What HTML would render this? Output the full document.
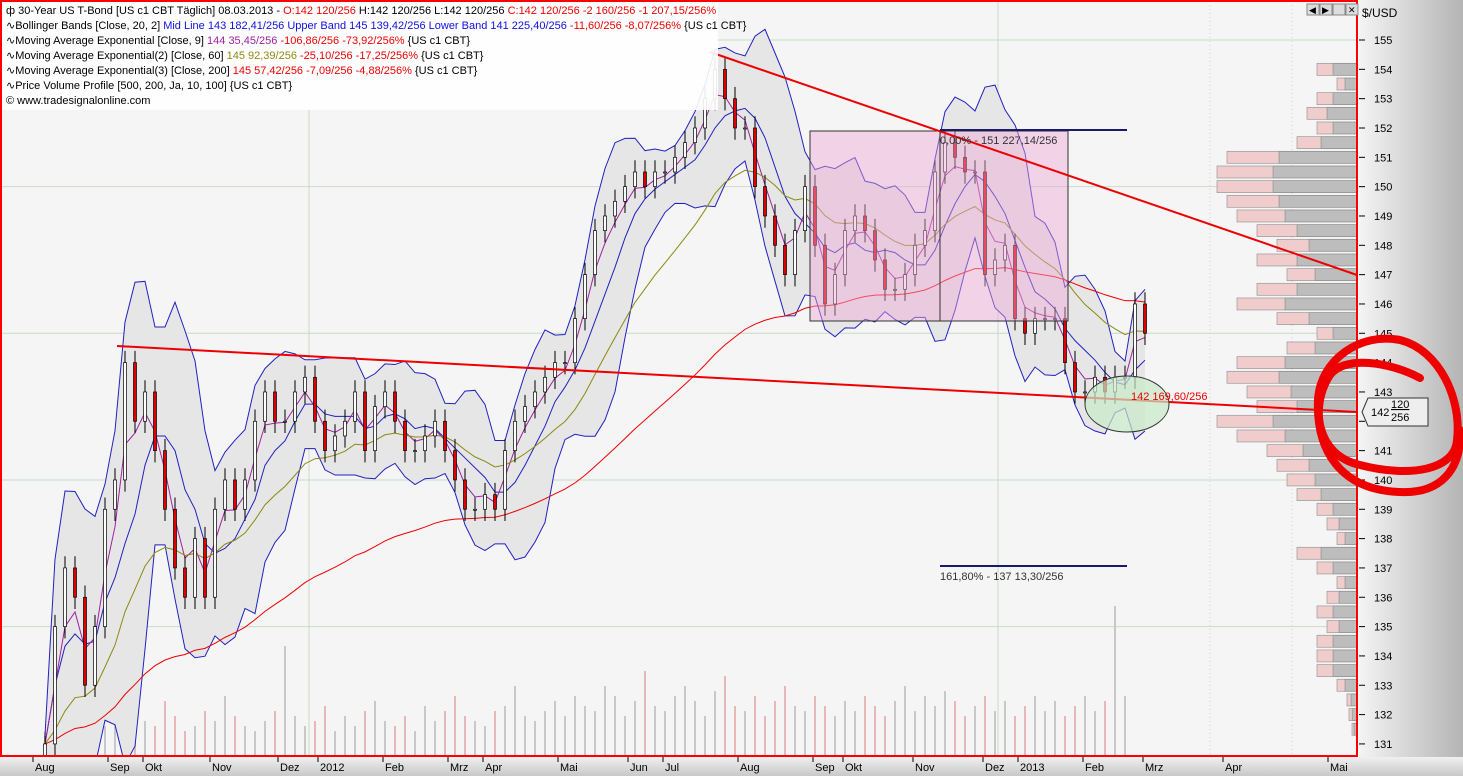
<!DOCTYPE html>
<html><head><meta charset="utf-8"><style>
html,body{margin:0;padding:0;background:#fff;overflow:hidden;width:1463px;height:776px;}
svg{display:block;font-family:"Liberation Sans",sans-serif;}
</style></head><body>
<svg id="chart" width="1463" height="776" viewBox="0 0 1463 776">
<defs>
<linearGradient id="axg" x1="0" x2="1" y1="0" y2="0"><stop offset="0" stop-color="#f4f4f4"/><stop offset="1" stop-color="#b4b4b4"/></linearGradient>
<linearGradient id="bxg" x1="0" x2="0" y1="0" y2="1"><stop offset="0" stop-color="#f0f0f0"/><stop offset="1" stop-color="#c8c8c8"/></linearGradient>
</defs>
<rect x="0" y="0" width="1463" height="776" fill="#fff"/>
<rect x="1" y="1" width="1356" height="755" fill="#f5f5f5"/>
<g id="grid"></g>
<g id="profile"></g>
<g id="volume"></g>
<g id="bands"></g>
<g id="overlays"></g>
<g id="candles"></g>
<rect x="1" y="1" width="1356" height="755" fill="none" stroke="#ff0000" stroke-width="2"/>
<rect x="1359" y="0" width="104" height="757" fill="url(#axg)"/>
<text x="1362" y="17" font-size="12" fill="#000">$/USD</text>
<g id="yaxis"></g>
<rect x="0" y="757" width="1463" height="19" fill="url(#bxg)"/>
<g id="xaxis"></g>
<g id="annot"></g>
<g>
<rect x="1307" y="4" width="12" height="11" fill="#ddd" stroke="#888"/><text x="1309" y="13" font-size="9">◀</text>
<rect x="1320" y="4" width="12" height="11" fill="#ddd" stroke="#888"/><text x="1322" y="13" font-size="9">▶</text>
<rect x="1333" y="4" width="12" height="11" fill="#ddd" stroke="#888"/>
<rect x="1346" y="4" width="12" height="11" fill="#ddd" stroke="#888"/><text x="1348" y="13" font-size="9">✕</text>
</g>
<g id="legend" font-size="11">
<rect x="2" y="2" width="716" height="108" fill="#fff" opacity="0.9"/>
<text x="6" y="14"><tspan>ф 30-Year US T-Bond [US c1 CBT  Täglich] 08.03.2013 - </tspan><tspan fill="#e00">O:142 120/256 </tspan><tspan>H:142 120/256 L:142 120/256 </tspan><tspan fill="#e00">C:142 120/256 -2 160/256 -1 207,15/256%</tspan></text>
<text x="6" y="29"><tspan>∿Bollinger Bands [Close, 20, 2] </tspan><tspan fill="#1010e0">Mid Line 143 182,41/256 Upper Band 145 139,42/256 Lower Band 141 225,40/256 </tspan><tspan fill="#e00">-11,60/256 -8,07/256% </tspan><tspan>{US c1 CBT}</tspan></text>
<text x="6" y="44"><tspan>∿Moving Average Exponential [Close, 9] </tspan><tspan fill="#a020a0">144 35,45/256 </tspan><tspan fill="#e00">-106,86/256 -73,92/256% </tspan><tspan>{US c1 CBT}</tspan></text>
<text x="6" y="59"><tspan>∿Moving Average Exponential(2) [Close, 60] </tspan><tspan fill="#8a8a10">145 92,39/256 </tspan><tspan fill="#e00">-25,10/256 -17,25/256% </tspan><tspan>{US c1 CBT}</tspan></text>
<text x="6" y="74"><tspan>∿Moving Average Exponential(3) [Close, 200] </tspan><tspan fill="#e00">145 57,42/256 -7,09/256 -4,88/256% </tspan><tspan>{US c1 CBT}</tspan></text>
<text x="6" y="89">∿Price Volume Profile [500, 200, Ja, 10, 100] {US c1 CBT}</text>
<text x="6" y="104">© www.tradesignalonline.com</text>
</g>
</svg>
<script>
const closes=[131,135,137,136,133,135,139,140,144,142,143,141,139,137,136,138,136,139,140,139,140,142,143,142,142,143,143.5,142,141,141.5,142,143,141,142.5,143,142,141,141,141.5,142,141,140,139,139,139.5,139,141,142,142.5,143,143.5,144,144,145.5,147,148.5,149,149.5,150,150.5,150,150.5,150.5,151,151.5,152,153,154,153,152,152,150,149,148,147,148.5,150,148,146,147,148.5,149,148.5,147.5,146.5,146.5,147,148,148.5,150.5,151.5,151,150.5,150.5,147,147.5,148,145.5,145,145.5,145.5,145.5,144,143,143,143.5,143,143.5,143.5,146,145];
const volumes=[20,35,40,30,45,25,30,50,60,40,35,30,55,40,25,30,45,35,60,40,30,25,35,45,110,40,30,35,50,25,40,30,45,55,35,30,40,25,50,35,45,60,40,35,30,45,50,70,40,35,45,55,40,60,50,45,70,60,40,55,85,50,45,60,70,55,40,65,80,50,45,60,40,55,70,50,45,60,50,40,55,45,60,50,40,55,70,45,60,50,65,55,40,50,60,45,55,40,50,60,45,55,40,50,60,45,55,150,60];
const profLevels=[154,153.5,153,152.5,152,151.5,151,150.5,150,149.5,149,148.5,148,147.5,147,146.5,146,145.5,145,144.5,144,143.5,143,142.5,142,141.5,141,140.5,140,139.5,139,138.5,138,137.5,137,136.5,136,135.5,135,134.5,134,133.5,133,132.5,132,131.5];
const profVols=[40,20,40,50,40,60,130,140,140,130,120,100,80,100,70,100,120,80,40,70,120,130,110,100,140,120,90,80,70,60,40,30,20,60,40,20,30,40,30,40,40,40,20,10,8,5];
const priceTicks=[131,132,133,134,135,136,137,138,139,140,141,142,143,144,145,146,147,148,149,150,151,152,153,154,155];
const monthLabels=["Aug","Sep","Okt","Nov","Dez","2012","Feb","Mrz","Apr","Mai","Jun","Jul","Aug","Sep","Okt","Nov","Dez","2013","Feb","Mrz","Apr","Mai"];
const monthIdx=[-1,6.5,10,16.7,23.5,27.5,34,40.5,44,51.5,58.5,62,69.5,77,80,87,94,97.5,104,110,118,128.5];

const NS="http://www.w3.org/2000/svg";
const X0=45,STEP=10;
function xs(i){return X0+i*STEP;}
function ys(p){return 40+(155-p)*29.33;}
function el(tag,attrs,parent){const e=document.createElementNS(NS,tag);for(const k in attrs)e.setAttribute(k,attrs[k]);document.getElementById(parent).appendChild(e);return e;}

[155,150,145,140,135].forEach(p=>{const l=el('line',{x1:1,x2:1357,y1:ys(p),y2:ys(p),stroke:'#c6dcc6','stroke-width':1},'grid');

});
[309,998].forEach(x=>{const l=el('line',{x1:x,x2:x,y1:1,y2:756,stroke:'#c6dcc6'},'grid');

});
[1210,1292].forEach(x=>{const l=el('line',{x1:x,x2:x,y1:1,y2:756,stroke:'#ccc','stroke-dasharray':'1,3'},'grid');

});

profLevels.forEach((p,i)=>{const w=profVols[i];const y=ys(p)-6;
const g=el('rect',{x:1357-w*0.6,y:y,width:w*0.6,height:12,fill:'#bdbdbd',stroke:'#888','stroke-width':0.7},'profile');


const pk=el('rect',{x:1357-w,y:y,width:w*0.4,height:12,fill:'#f0cccc',stroke:'#999','stroke-width':0.7},'profile');

});

volumes.forEach((v,i)=>{const up=i===0||closes[i]>=closes[i-1];
const r=el('rect',{x:xs(i)-1,y:756-v,width:2,height:v,fill:up?'#c8c8c8':'#e8b8b8'},'volume');

});

function ema(n){const a=2/(n+1);let out=[];let e=closes[0];closes.forEach((c,i)=>{e=i?a*c+(1-a)*e:c;out.push(e);});return out;}
const N=6;let up=[],lo=[],mid=[];
closes.forEach((c,i)=>{const s=closes.slice(Math.max(0,i-N+1),i+1);const m=s.reduce((a,b)=>a+b,0)/s.length;const sd=Math.sqrt(s.reduce((a,b)=>a+(b-m)*(b-m),0)/s.length);mid.push(m);up.push(m+2*sd+0.3);lo.push(m-2*sd-0.3);});
let d='M'+up.map((v,i)=>xs(i)+','+ys(v)).join(' L')+' L'+lo.map((v,i)=>xs(i)+','+ys(v)).reverse().join(' L')+'Z';
const bf=el('path',{d:d,fill:'#e6e6e6',stroke:'none'},'bands');


function line(arr,color,name,w,par){const p=el('polyline',{points:arr.map((v,i)=>xs(i)+','+ys(v)).join(' '),fill:'none',stroke:color,'stroke-width':w||1},par||'bands');

}
line(up,'#2020c0','bollinger-upper');line(lo,'#2020c0','bollinger-lower');line(mid,'#2020c0','bollinger-mid');
line(ema(3),'#a020a0','ema-9');line(ema(16),'#8a8a10','ema-60');line(ema(54),'#ee0000','ema-200');

closes.forEach((c,i)=>{const o=i?closes[i-1]:c-0.5;const h=Math.max(o,c)+0.4,l=Math.min(o,c)-0.4;const x=xs(i);
const wk=el('line',{x1:x,x2:x,y1:ys(h),y2:ys(l),stroke:'#000'},'candles');


const b=el('rect',{x:x-1.5,y:ys(Math.max(o,c)),width:3,height:Math.max(1,Math.abs(ys(o)-ys(c))),fill:c>=o?'#fff':'#e00000',stroke:'#000','stroke-width':0.7},'candles');

});

priceTicks.forEach(p=>{const t=el('text',{x:1374,y:ys(p)+4,'font-size':11,fill:'#000'},'yaxis');t.textContent=p;


const tk=el('line',{x1:1359,x2:1365,y1:ys(p),y2:ys(p),stroke:'#000'},'yaxis');

});
monthLabels.forEach((m,i)=>{const x=xs(monthIdx[i]);const t=el('text',{x:x,y:771,'font-size':11,fill:'#000'},'xaxis');t.textContent=m;


const tk=el('line',{x1:x-2,x2:x-2,y1:757,y2:762,stroke:'#000'},'xaxis');

});

const A=document.getElementById('annot');
A.innerHTML=`
<rect x="810" y="131" width="258" height="190" fill="#f0a8d8" fill-opacity="0.45" stroke="#333" stroke-width="1"/>
<line x1="940" y1="131" x2="940" y2="321" stroke="#333"/>
<line x1="117" y1="346" x2="1357" y2="412" stroke="#ee0000" stroke-width="2"/>
<line x1="710" y1="52" x2="1357" y2="275" stroke="#ee0000" stroke-width="2"/>
<line x1="940" y1="130" x2="1127" y2="130" stroke="#1a1a6a" stroke-width="2"/>
<text x="940" y="144" font-size="11" fill="#333">0,00% - 151 227,14/256</text>
<line x1="940" y1="566" x2="1127" y2="566" stroke="#1a1a6a" stroke-width="2"/>
<text x="940" y="580" font-size="11" fill="#333">161,80% - 137 13,30/256</text>
<ellipse cx="1127" cy="404" rx="42" ry="28" fill="#c8e8c8" fill-opacity="0.7" stroke="#333"/>
<text x="1131" y="400" font-size="11" fill="#ee0000">142 169,60/256</text>
<path d="M1362 412 l6 -14 h60 v28 h-60 z" fill="#eee" stroke="#333"/>
<text x="1371" y="416" font-size="11">142</text>
<text x="1391" y="408" font-size="11" text-decoration="underline">120</text>
<text x="1391" y="421" font-size="11">256</text>
<path d="M1420 378 C1390 362 1345 355 1330 375 C1310 405 1315 455 1360 465 C1410 478 1455 470 1457 440 C1462 400 1440 350 1400 340 C1360 332 1320 360 1318 400 C1316 450 1340 490 1400 492 C1440 494 1462 470 1460 430" fill="none" stroke="#ee0000" stroke-width="8" stroke-linecap="round"/>
`;
</script>
</body></html>
